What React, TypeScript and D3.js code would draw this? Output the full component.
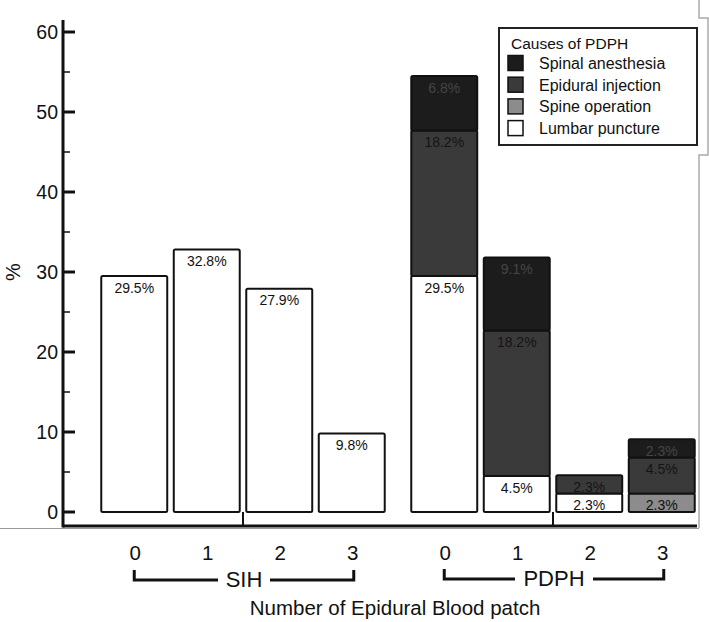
import React from "react";
import * as d3 from "d3";

const groups = ["SIH", "PDPH"];
const counts = ["0", "1", "2", "3"];
const sihValues = [29.5, 32.8, 27.9, 9.8];
const causes = ["Lumbar puncture", "Spine operation", "Epidural injection", "Spinal anesthesia"];
const lumbar = [29.5, 4.5, 2.3, 0];
const spineOp = [0, 0, 0, 2.3];
const epidural = [18.2, 18.2, 2.3, 4.5];
const spinal = [6.8, 9.1, 0, 2.3];
const yTicks = [0, 10, 20, 30, 40, 50, 60];
const yMinorTicks = [5, 15, 25, 35, 45, 55];
const legendOrder = ["Spinal anesthesia", "Epidural injection", "Spine operation", "Lumbar puncture"];

const colors: Record<string, string> = {
  "Spinal anesthesia": "#1c1c1c",
  "Epidural injection": "#3a3a3a",
  "Spine operation": "#8c8c8c",
  "Lumbar puncture": "#ffffff",
};
const textColors: Record<string, string> = {
  "Spinal anesthesia": "#454545",
  "Epidural injection": "#141414",
  "Spine operation": "#111",
  "Lumbar puncture": "#111",
};

const FONT = "'Liberation Sans', Arial, sans-serif";

export default function App() {
  const W = 709, H = 622;
  const y = d3.scaleLinear().domain([0, 60]).range([512, 32]);
  const outer = d3.scaleBand<string>().domain(groups).range([98, 698]).paddingInner(20 / 310).paddingOuter(0);
  const inner = d3.scaleBand<string>().domain(counts).range([0, outer.bandwidth()]).paddingInner(0.09).paddingOuter(0.045);
  const bw = inner.bandwidth();
  const bx = (g: string, c: string) => (outer(g) as number) + (inner(c) as number);

  const table = counts.map((c, i) => ({
    count: c,
    "Lumbar puncture": lumbar[i],
    "Spine operation": spineOp[i],
    "Epidural injection": epidural[i],
    "Spinal anesthesia": spinal[i],
  }));
  const stacked = d3.stack<any>().keys(causes)(table);

  const axisY = 526;
  const axisX = 63;
  const dividerX = (g: string) => (bx(g, "1") + bw + bx(g, "2")) / 2;

  const fmt = (v: number) => `${v.toFixed(1)}%`;

  return (
    <svg width={W} height={H} style={{ position: "absolute", left: 0, top: 0, background: "#fff" }} fontFamily={FONT}>
      <rect x={0} y={0} width={W} height={H} fill="#fff" />
      {/* decorative right border */}
      <path d="M699,0 L699,18 L708,18 L708,155 L699,155 L699,528" fill="none" stroke="#aaa" strokeWidth={1.5} />
      <line x1={0} x2={699} y1={528.5} y2={528.5} stroke="#999" strokeWidth={1} />

      {/* SIH bars */}
      {counts.map((c, i) => (
        <g key={"sih" + c}>
          <rect x={bx("SIH", c)} y={y(sihValues[i])} width={bw} height={y(0) - y(sihValues[i])}
            fill="#fff" stroke="#111" strokeWidth={2} rx={1.5} />
          <text x={bx("SIH", c) + bw / 2} y={y(sihValues[i]) + 16.5} textAnchor="middle" fontSize={14} fill="#111">
            {fmt(sihValues[i])}
          </text>
        </g>
      ))}

      {/* PDPH stacked bars */}
      {stacked.map((layer) => (
        <g key={layer.key}>
          {layer.map((d, i) => {
            const v = d[1] - d[0];
            if (v <= 0) return null;
            const c = counts[i];
            return (
              <g key={c}>
                <rect x={bx("PDPH", c)} y={y(d[1])} width={bw} height={y(d[0]) - y(d[1])}
                  fill={colors[layer.key]} stroke="#111" strokeWidth={2} rx={1.5} />
                <text x={bx("PDPH", c) + bw / 2} y={y(d[1]) + 16.5} textAnchor="middle" fontSize={14}
                  fill={textColors[layer.key]}>
                  {fmt(v)}
                </text>
              </g>
            );
          })}
        </g>
      ))}

      {/* Y axis */}
      <line x1={axisX} x2={axisX} y1={20} y2={axisY + 1.5} stroke="#111" strokeWidth={3} />
      {yTicks.map((t) => (
        <g key={t}>
          <line x1={axisX} x2={axisX + 12} y1={y(t)} y2={y(t)} stroke="#111" strokeWidth={3} />
          <text x={58} y={y(t) + 7} textAnchor="end" fontSize={19.5} fill="#111">{t}</text>
        </g>
      ))}
      {yMinorTicks.map((t) => (
        <line key={t} x1={axisX} x2={axisX + 7} y1={y(t)} y2={y(t)} stroke="#111" strokeWidth={1.5} />
      ))}
      <text transform={`translate(20,272) rotate(-90)`} textAnchor="middle" fontSize={20} fill="#111">%</text>

      {/* X axis */}
      <line x1={axisX} x2={697} y1={axisY} y2={axisY} stroke="#111" strokeWidth={3} />
      {groups.map((g) => (
        <line key={g} x1={dividerX(g)} x2={dividerX(g)} y1={512} y2={axisY} stroke="#111" strokeWidth={2} />
      ))}
      {groups.map((g) =>
        counts.map((c) => (
          <text key={g + c} x={bx(g, c) + bw / 2 + 1} y={560} textAnchor="middle" fontSize={20.5} fill="#111">{c}</text>
        ))
      )}

      {/* group brackets */}
      {groups.map((g) => {
        const x0 = bx(g, "0") + bw / 2;
        const x1 = bx(g, "3") + bw / 2 + 2;
        const mid = (x0 + x1) / 2;
        const half = g === "SIH" ? 26 : 39;
        const by = g === "SIH" ? 580 : 579;
        return (
          <g key={"br" + g}>
            <path d={`M${x0},${by - 10} L${x0},${by} L${mid - half},${by}`} fill="none" stroke="#111" strokeWidth={3} />
            <path d={`M${mid + half},${by} L${x1},${by} L${x1},${by - 10}`} fill="none" stroke="#111" strokeWidth={3} />
            <text x={mid} y={by + 7} textAnchor="middle" fontSize={22} fill="#111">{g}</text>
          </g>
        );
      })}

      <text x={395} y={615} textAnchor="middle" fontSize={20.5} fill="#111">Number of Epidural Blood patch</text>

      {/* legend */}
      <rect x={499} y={28} width={198} height={117} fill="#fff" stroke="#222" strokeWidth={2} />
      <text x={511} y={49} fontSize={15.5} fill="#111">Causes of PDPH</text>
      {legendOrder.map((k, i) => {
        const cy = 63 + i * 21.7;
        return (
          <g key={k}>
            <rect x={508} y={cy - 7.5} width={15} height={15} fill={colors[k]} stroke="#111" strokeWidth={1.5} />
            <text x={539} y={cy + 6} fontSize={16} fill="#111">{k}</text>
          </g>
        );
      })}
    </svg>
  );
}
